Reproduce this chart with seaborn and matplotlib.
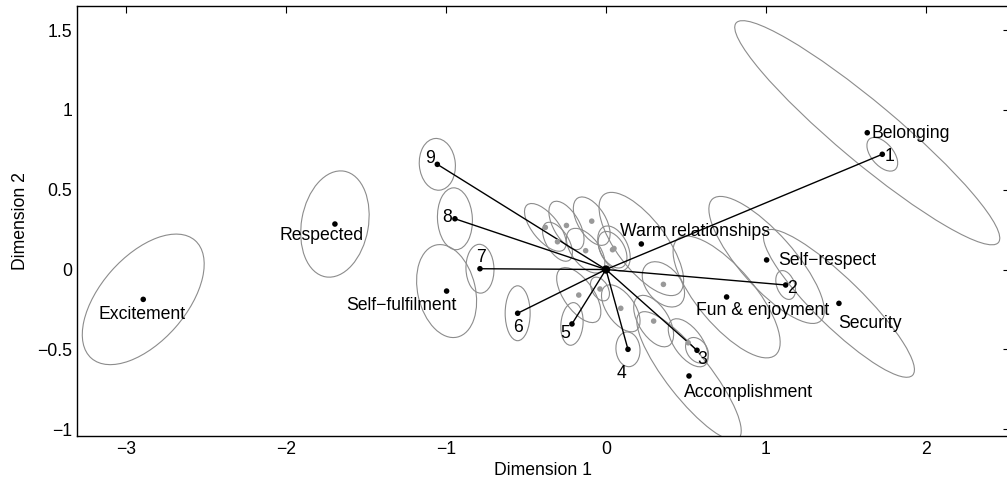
import matplotlib
matplotlib.use('Agg')
import matplotlib.pyplot as plt
from matplotlib.patches import Ellipse
import pandas as pd
import seaborn as sns

# Numbered points (group centroids) and their confidence ellipses
num_labels = ['1', '2', '3', '4', '5', '6', '7', '8', '9']
num_x = [1.727, 1.123, 0.569, 0.1375, -0.2125, -0.552, -0.7875, -0.944, -1.054]
num_y = [0.722, -0.097, -0.506, -0.500, -0.341, -0.274, 0.005, 0.318, 0.659]
num_semi_a = [0.125, 0.094, 0.0875, 0.109, 0.134, 0.172, 0.153, 0.194, 0.1625]
num_semi_b = [0.069, 0.056, 0.0625, 0.075, 0.069, 0.078, 0.0875, 0.109, 0.1125]
num_angle = [-50, -70, -55, 95, 85, 90, 92, 93, 95]

# Named values
val_labels = ['Belonging', 'Respected', 'Excitement', 'Self\u2212fulfilment',
              'Warm relationships', 'Self\u2212respect', 'Fun & enjoyment',
              'Security', 'Accomplishment']
val_x = [1.633, -1.694, -2.892, -0.996, 0.221, 1.004, 0.754, 1.456, 0.519]
val_y = [0.857, 0.285, -0.187, -0.135, 0.160, 0.060, -0.172, -0.212, -0.667]
val_semi_a = [1.07, 0.336, 0.491, 0.296, 0.3875, 0.51, 0.475, 0.644, 0.50]
val_semi_b = [0.185, 0.209, 0.267, 0.180, 0.156, 0.169, 0.179, 0.150, 0.1375]
val_angle = [-40, 80, 48.75, 103, -53, -48.5, -50, -44.4, -52]

# Unlabelled (grey) points
grey_x = [-0.379, -0.247, -0.089, -0.303, -0.127, 0.041, 0.050, 0.359,
          -0.170, -0.0375, 0.0925, 0.298, 0.514]
grey_y = [0.264, 0.276, 0.303, 0.174, 0.118, 0.124, 0.132, -0.093,
          -0.160, -0.122, -0.243, -0.323, -0.459]
grey_semi_a = [0.181, 0.169, 0.169, 0.1375, 0.1625, 0.125, 0.15, 0.1625,
               0.20, 0.081, 0.169, 0.181, 0.175]
grey_semi_b = [0.081, 0.081, 0.0875, 0.069, 0.0875, 0.075, 0.0875, 0.106,
               0.094, 0.05, 0.0875, 0.094, 0.0875]
grey_angle = [-51, -60, -59, -58, -53, -60, -65, -50, -55, -60, -55, -58, -54]

x_ticks = [-3, -2, -1, 0, 1, 2]
x_ticklabels = ['\u22123', '\u22122', '\u22121', '0', '1', '2']
y_ticks = [-1, -0.5, 0, 0.5, 1, 1.5]
y_ticklabels = ['\u22121', '\u22120.5', '0', '0.5', '1', '1.5']

df_num = pd.DataFrame({'x': num_x, 'y': num_y, 'label': num_labels})
df_val = pd.DataFrame({'x': val_x, 'y': val_y, 'label': val_labels})
df_grey = pd.DataFrame({'x': grey_x, 'y': grey_y})

# label placement: (dx px, dy px down to baseline, ha)
num_place = [(2, 6.7, 'left'), (1.5, 7.5, 'left'), (0, 13.7, 'left'),
             (-6.5, 28.7, 'center'), (-6.5, 14, 'center'), (0.3, 18.7, 'center'),
             (1, -6.7, 'center'), (-8, 3.3, 'center'), (-7, -1.3, 'center')]
val_place = [(4, 4.8, 'left'), (-13.3, 16, 'center'), (-1, 20, 'center'),
             (-45.5, 18.5, 'center'), (-21, -8, 'left'), (11.6, 5, 'left'),
             (-30.7, 18, 'left'), (-0.7, 24.4, 'left'), (-5, 20.7, 'left')]

sns.set_style('white')
plt.rcParams['font.family'] = ['Liberation Sans', 'DejaVu Sans']
plt.rcParams['axes.unicode_minus'] = True
plt.rcParams['text.color'] = 'black'
plt.rcParams['axes.labelcolor'] = 'black'
FS = 12.7
ELL_COLOR = '#8c8c8c'

fig = plt.figure(figsize=(10.07, 4.86), dpi=100)
ax = fig.add_axes([0.07646, 0.1029, 0.9265, 0.8854])

# ellipses
for xs, ys, aa, bb, ang in [(grey_x, grey_y, grey_semi_a, grey_semi_b, grey_angle),
                            (num_x, num_y, num_semi_a, num_semi_b, num_angle),
                            (val_x, val_y, val_semi_a, val_semi_b, val_angle)]:
    for x, y, a, b, t in zip(xs, ys, aa, bb, ang):
        ax.add_patch(Ellipse((x, y), 2 * a, 2 * b, angle=t, fill=False,
                             edgecolor=ELL_COLOR, linewidth=0.8, zorder=1))

# spokes from origin to the numbered points
for x, y in zip(num_x, num_y):
    ax.plot([0, x], [0, y], color='black', linewidth=1.0, zorder=2)

sns.scatterplot(data=df_grey, x='x', y='y', color='#999999', s=16,
                edgecolor='none', ax=ax, zorder=3)
sns.scatterplot(data=df_num, x='x', y='y', color='black', s=16,
                edgecolor='none', ax=ax, zorder=4)
sns.scatterplot(data=df_val, x='x', y='y', color='black', s=16,
                edgecolor='none', ax=ax, zorder=4)
sns.scatterplot(x=[0], y=[0], color='black', s=36, edgecolor='none', ax=ax, zorder=5)

px2pt = 0.72
for (x, y, lab), (dx, dy, ha) in zip(zip(num_x, num_y, num_labels), num_place):
    ax.annotate(lab, (x, y), xytext=(dx * px2pt, -dy * px2pt), textcoords='offset points',
                ha=ha, va='baseline', fontsize=FS, color='black', zorder=6)
for (x, y, lab), (dx, dy, ha) in zip(zip(val_x, val_y, val_labels), val_place):
    ax.annotate(lab, (x, y), xytext=(dx * px2pt, -dy * px2pt), textcoords='offset points',
                ha=ha, va='baseline', fontsize=FS, color='black', zorder=6)

ax.set_xlim(-3.306, 2.525)
ax.set_ylim(-1.043, 1.653)
ax.set_xticks(x_ticks)
ax.set_xticklabels(x_ticklabels)
ax.set_yticks(y_ticks)
ax.set_yticklabels(y_ticklabels)
ax.tick_params(direction='in', length=5, width=0.8, top=True, right=True,
               labelsize=FS, colors='black', pad=3.5)
for sp in ax.spines.values():
    sp.set_visible(True)
    sp.set_color('black')
    sp.set_linewidth(1.0)

ax.set_xlabel('Dimension 1', fontsize=FS, labelpad=3, color='black')
ax.set_ylabel('Dimension 2', fontsize=FS, labelpad=6, color='black')

fig.savefig('out.png', dpi=100)
